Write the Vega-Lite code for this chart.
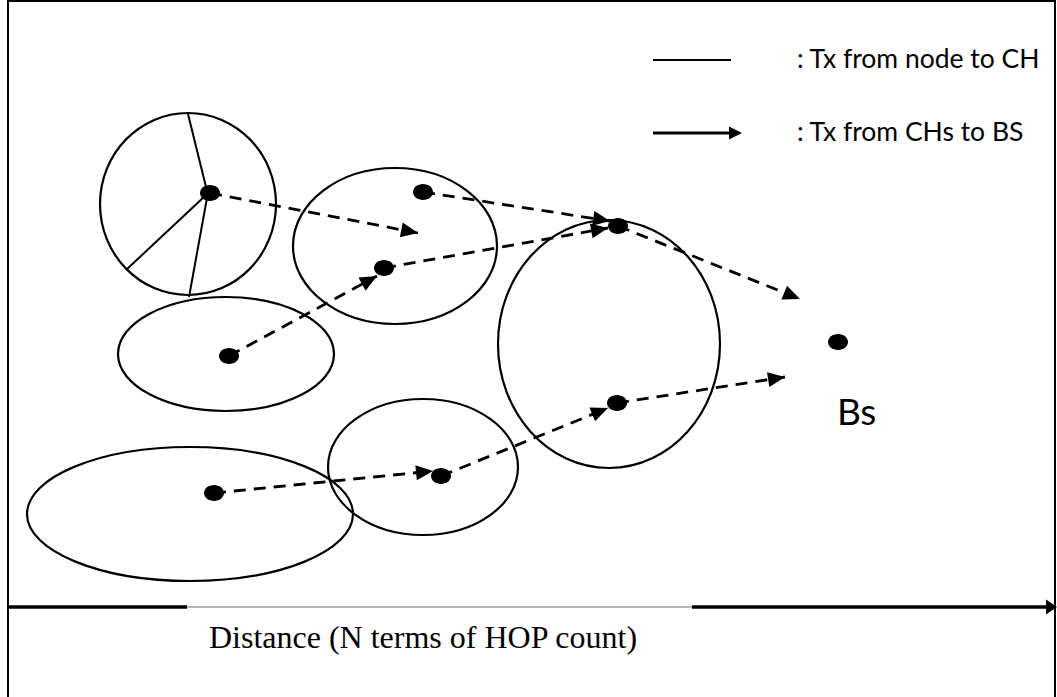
{
  "$schema": "https://vega.github.io/schema/vega-lite/v6.json",
  "width": 1057,
  "height": 697,
  "padding": 0,
  "autosize": {"type": "none"},
  "background": "white",
  "config": {"view": {"stroke": null}},
  "datasets": {
    "clusters": [
      {"id": "c1", "cx": 188, "cy": 204},
      {"id": "c2", "cx": 395, "cy": 246},
      {"id": "c3", "cx": 226, "cy": 354},
      {"id": "c4", "cx": 190, "cy": 514},
      {"id": "c5", "cx": 423, "cy": 467},
      {"id": "c6", "cx": 609, "cy": 344}
    ],
    "nodes": [
      {"node": "A", "x": 210, "y": 193},
      {"node": "B", "x": 423, "y": 192},
      {"node": "C", "x": 384, "y": 268},
      {"node": "D", "x": 618, "y": 226},
      {"node": "E", "x": 229, "y": 356},
      {"node": "F", "x": 214, "y": 493},
      {"node": "G", "x": 441, "y": 476},
      {"node": "H", "x": 617, "y": 403},
      {"node": "BS", "x": 838, "y": 342}
    ],
    "spokes": [
      {"x": 208, "y": 195, "x2": 188, "y2": 114},
      {"x": 205, "y": 196, "x2": 126, "y2": 270},
      {"x": 207, "y": 198, "x2": 189, "y2": 297}
    ],
    "hops": [
      {"id": "A", "x": 210, "y": 193, "x2": 418, "y2": 233, "heading": 10.9},
      {"id": "B-D", "x": 423, "y": 192, "x2": 610, "y2": 221, "heading": 8.8},
      {"id": "C-D", "x": 384, "y": 268, "x2": 608, "y2": 228, "heading": -10.1},
      {"id": "E-C", "x": 229, "y": 356, "x2": 377, "y2": 276, "heading": -28.4},
      {"id": "D-BS", "x": 618, "y": 226, "x2": 800, "y2": 299, "heading": 21.9},
      {"id": "F-G", "x": 214, "y": 493, "x2": 433, "y2": 471, "heading": -5.7},
      {"id": "G-H", "x": 441, "y": 476, "x2": 608, "y2": 408, "heading": -22.2},
      {"id": "H-BS", "x": 617, "y": 403, "x2": 785, "y2": 377, "heading": -8.8}
    ],
    "frame": [
      {"x": 8, "y": 0, "x2": 8, "y2": 697},
      {"x": 8, "y": 1, "x2": 1055, "y2": 1},
      {"x": 1055, "y": 0, "x2": 1055, "y2": 697}
    ],
    "axisBlack": [
      {"x": 8, "y": 607, "x2": 187, "y2": 607},
      {"x": 692, "y": 607, "x2": 1050, "y2": 607}
    ],
    "axisGray": [
      {"x": 187, "y": 607, "x2": 692, "y2": 607}
    ],
    "axisHead": [
      {"x": 1057, "y": 607, "heading": 0}
    ],
    "legendThin": [
      {"x": 653, "y": 60, "x2": 731, "y2": 60}
    ],
    "legendThick": [
      {"x": 653, "y": 133, "x2": 736, "y2": 133}
    ],
    "legendHead": [
      {"x": 742, "y": 133, "heading": 0}
    ],
    "legendText": [
      {"x": 797, "y": 60, "label": ": Tx from node to CH"},
      {"x": 797, "y": 133, "label": ": Tx from CHs to BS"}
    ],
    "bsText": [
      {"x": 837, "y": 414, "label": "Bs"}
    ],
    "axisText": [
      {"x": 209, "y": 638, "label": "Distance (N terms of HOP count)"}
    ]
  },
  "layer": [
    {
      "data": {"name": "frame"},
      "mark": {"type": "rule", "color": "black", "strokeWidth": 2},
      "encoding": {
        "x": {"field": "x", "type": "quantitative", "scale": {"domain": [0, 1057], "nice": false, "zero": false}, "axis": null},
        "y": {"field": "y", "type": "quantitative", "scale": {"domain": [0, 697], "nice": false, "zero": false, "reverse": true}, "axis": null},
        "x2": {"field": "x2"},
        "y2": {"field": "y2"}
      }
    },
    {
      "data": {"name": "clusters"},
      "mark": {"type": "point", "filled": false, "color": "black", "strokeWidth": 2.2, "size": 4, "opacity": 1},
      "encoding": {
        "x": {"field": "cx", "type": "quantitative", "scale": {"domain": [0, 1057], "nice": false, "zero": false}, "axis": null},
        "y": {"field": "cy", "type": "quantitative", "scale": {"domain": [0, 697], "nice": false, "zero": false, "reverse": true}, "axis": null},
        "shape": {
          "field": "id",
          "type": "nominal",
          "legend": null,
          "scale": {
            "domain": ["c1", "c2", "c3", "c4", "c5", "c6"],
            "range": [
              "M88,0C88,50.3,48.6,91,0,91C-48.6,91,-88,50.3,-88,0C-88,-50.3,-48.6,-91,0,-91C48.6,-91,88,-50.3,88,0Z",
              "M102,0C102,43.1,56.3,78,0,78C-56.3,78,-102,43.1,-102,0C-102,-43.1,-56.3,-78,0,-78C56.3,-78,102,-43.1,102,0Z",
              "M108,0C108,31.5,59.6,57,0,57C-59.6,57,-108,31.5,-108,0C-108,-31.5,-59.6,-57,0,-57C59.6,-57,108,-31.5,108,0Z",
              "M163,0C163,37,90,67,0,67C-90,67,-163,37,-163,0C-163,-37,-90,-67,0,-67C90,-67,163,-37,163,0Z",
              "M95,0C95,37.6,52.5,68,0,68C-52.5,68,-95,37.6,-95,0C-95,-37.6,-52.5,-68,0,-68C52.5,-68,95,-37.6,95,0Z",
              "M111,0C111,68.5,61.3,124,0,124C-61.3,124,-111,68.5,-111,0C-111,-68.5,-61.3,-124,0,-124C61.3,-124,111,-68.5,111,0Z"
            ]
          }
        }
      }
    },
    {
      "data": {"name": "spokes"},
      "mark": {"type": "rule", "color": "black", "strokeWidth": 2},
      "encoding": {
        "x": {"field": "x", "type": "quantitative", "scale": {"domain": [0, 1057], "nice": false, "zero": false}, "axis": null},
        "y": {"field": "y", "type": "quantitative", "scale": {"domain": [0, 697], "nice": false, "zero": false, "reverse": true}, "axis": null},
        "x2": {"field": "x2"},
        "y2": {"field": "y2"}
      }
    },
    {
      "data": {"name": "hops"},
      "mark": {"type": "rule", "color": "black", "strokeWidth": 2.8, "strokeDash": [12, 8]},
      "encoding": {
        "x": {"field": "x", "type": "quantitative", "scale": {"domain": [0, 1057], "nice": false, "zero": false}, "axis": null},
        "y": {"field": "y", "type": "quantitative", "scale": {"domain": [0, 697], "nice": false, "zero": false, "reverse": true}, "axis": null},
        "x2": {"field": "x2"},
        "y2": {"field": "y2"}
      }
    },
    {
      "data": {"name": "hops"},
      "mark": {"type": "point", "filled": true, "color": "black", "opacity": 1, "size": 4, "shape": "M0,0L-17,-7.5L-17,7.5Z"},
      "encoding": {
        "x": {"field": "x2", "type": "quantitative", "scale": {"domain": [0, 1057], "nice": false, "zero": false}, "axis": null},
        "y": {"field": "y2", "type": "quantitative", "scale": {"domain": [0, 697], "nice": false, "zero": false, "reverse": true}, "axis": null},
        "angle": {"field": "heading", "type": "quantitative", "scale": null}
      }
    },
    {
      "data": {"name": "nodes"},
      "mark": {"type": "point", "filled": true, "color": "black", "opacity": 1, "size": 4, "shape": "M10,0C10,4.4,5.5,8,0,8C-5.5,8,-10,4.4,-10,0C-10,-4.4,-5.5,-8,0,-8C5.5,-8,10,-4.4,10,0Z"},
      "encoding": {
        "x": {"field": "x", "type": "quantitative", "scale": {"domain": [0, 1057], "nice": false, "zero": false}, "axis": null},
        "y": {"field": "y", "type": "quantitative", "scale": {"domain": [0, 697], "nice": false, "zero": false, "reverse": true}, "axis": null}
      }
    },
    {
      "data": {"name": "axisGray"},
      "mark": {"type": "rule", "color": "#a0a0a0", "strokeWidth": 1.5},
      "encoding": {
        "x": {"field": "x", "type": "quantitative", "scale": {"domain": [0, 1057], "nice": false, "zero": false}, "axis": null},
        "y": {"field": "y", "type": "quantitative", "scale": {"domain": [0, 697], "nice": false, "zero": false, "reverse": true}, "axis": null},
        "x2": {"field": "x2"},
        "y2": {"field": "y2"}
      }
    },
    {
      "data": {"name": "axisBlack"},
      "mark": {"type": "rule", "color": "black", "strokeWidth": 3.5},
      "encoding": {
        "x": {"field": "x", "type": "quantitative", "scale": {"domain": [0, 1057], "nice": false, "zero": false}, "axis": null},
        "y": {"field": "y", "type": "quantitative", "scale": {"domain": [0, 697], "nice": false, "zero": false, "reverse": true}, "axis": null},
        "x2": {"field": "x2"},
        "y2": {"field": "y2"}
      }
    },
    {
      "data": {"name": "axisHead"},
      "mark": {"type": "point", "filled": true, "color": "black", "opacity": 1, "size": 4, "shape": "M0,0L-11,-7.5L-11,7.5Z"},
      "encoding": {
        "x": {"field": "x", "type": "quantitative", "scale": {"domain": [0, 1057], "nice": false, "zero": false}, "axis": null},
        "y": {"field": "y", "type": "quantitative", "scale": {"domain": [0, 697], "nice": false, "zero": false, "reverse": true}, "axis": null},
        "angle": {"field": "heading", "type": "quantitative", "scale": null}
      }
    },
    {
      "data": {"name": "legendThin"},
      "mark": {"type": "rule", "color": "black", "strokeWidth": 2},
      "encoding": {
        "x": {"field": "x", "type": "quantitative", "scale": {"domain": [0, 1057], "nice": false, "zero": false}, "axis": null},
        "y": {"field": "y", "type": "quantitative", "scale": {"domain": [0, 697], "nice": false, "zero": false, "reverse": true}, "axis": null},
        "x2": {"field": "x2"},
        "y2": {"field": "y2"}
      }
    },
    {
      "data": {"name": "legendThick"},
      "mark": {"type": "rule", "color": "black", "strokeWidth": 3.2},
      "encoding": {
        "x": {"field": "x", "type": "quantitative", "scale": {"domain": [0, 1057], "nice": false, "zero": false}, "axis": null},
        "y": {"field": "y", "type": "quantitative", "scale": {"domain": [0, 697], "nice": false, "zero": false, "reverse": true}, "axis": null},
        "x2": {"field": "x2"},
        "y2": {"field": "y2"}
      }
    },
    {
      "data": {"name": "legendHead"},
      "mark": {"type": "point", "filled": true, "color": "black", "opacity": 1, "size": 4, "shape": "M0,0L-13,-6.5L-13,6.5Z"},
      "encoding": {
        "x": {"field": "x", "type": "quantitative", "scale": {"domain": [0, 1057], "nice": false, "zero": false}, "axis": null},
        "y": {"field": "y", "type": "quantitative", "scale": {"domain": [0, 697], "nice": false, "zero": false, "reverse": true}, "axis": null},
        "angle": {"field": "heading", "type": "quantitative", "scale": null}
      }
    },
    {
      "data": {"name": "legendText"},
      "mark": {"type": "text", "align": "left", "baseline": "middle", "font": "Lato", "fontSize": 26.5, "color": "black"},
      "encoding": {
        "x": {"field": "x", "type": "quantitative", "scale": {"domain": [0, 1057], "nice": false, "zero": false}, "axis": null},
        "y": {"field": "y", "type": "quantitative", "scale": {"domain": [0, 697], "nice": false, "zero": false, "reverse": true}, "axis": null},
        "text": {"field": "label", "type": "nominal"}
      }
    },
    {
      "data": {"name": "bsText"},
      "mark": {"type": "text", "align": "left", "baseline": "middle", "font": "Lato", "fontSize": 37, "color": "black"},
      "encoding": {
        "x": {"field": "x", "type": "quantitative", "scale": {"domain": [0, 1057], "nice": false, "zero": false}, "axis": null},
        "y": {"field": "y", "type": "quantitative", "scale": {"domain": [0, 697], "nice": false, "zero": false, "reverse": true}, "axis": null},
        "text": {"field": "label", "type": "nominal"}
      }
    },
    {
      "data": {"name": "axisText"},
      "mark": {"type": "text", "align": "left", "baseline": "middle", "font": "Liberation Serif", "fontSize": 32, "color": "black"},
      "encoding": {
        "x": {"field": "x", "type": "quantitative", "scale": {"domain": [0, 1057], "nice": false, "zero": false}, "axis": null},
        "y": {"field": "y", "type": "quantitative", "scale": {"domain": [0, 697], "nice": false, "zero": false, "reverse": true}, "axis": null},
        "text": {"field": "label", "type": "nominal"}
      }
    }
  ]
}
